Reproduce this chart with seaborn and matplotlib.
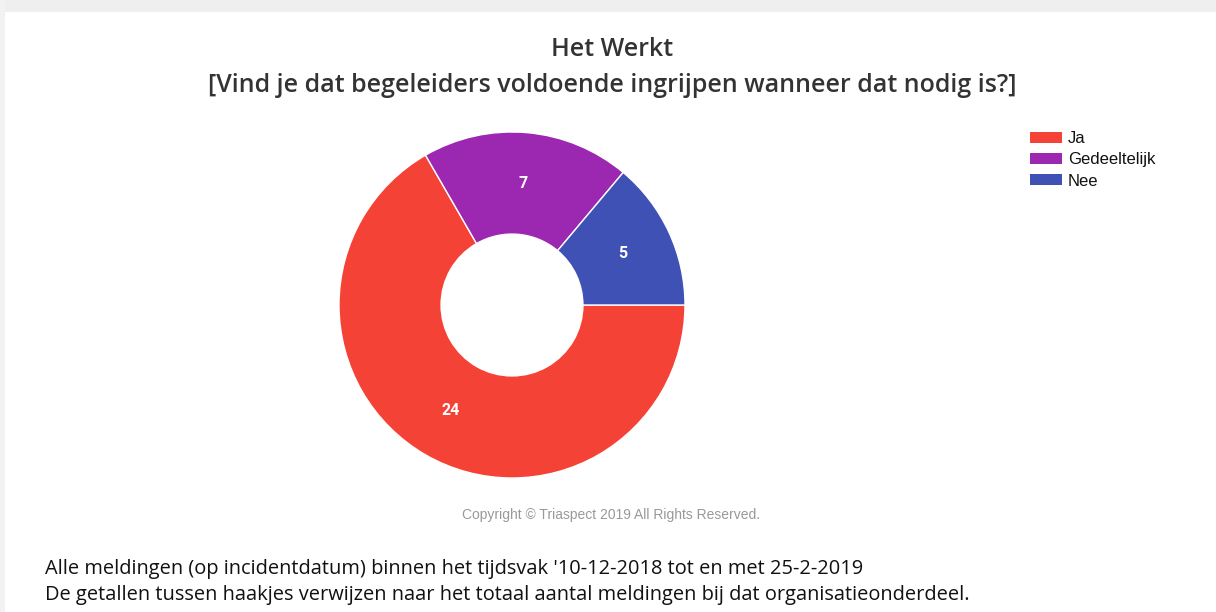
import matplotlib
matplotlib.use("Agg")
import matplotlib.pyplot as plt
import seaborn as sns
from matplotlib.patches import Rectangle, Patch

# data
categories = ["Ja", "Gedeeltelijk", "Nee"]
counts = [24, 7, 5]
colors = ["#F44336", "#9C27B0", "#3F51B5"]

sns.set_theme(style="white")
plt.rcParams["font.family"] = ["Open Sans", "DejaVu Sans"]

fig = plt.figure(figsize=(12.16, 6.12), dpi=100)
fig.patch.set_facecolor("white")

# page frame: grey band on top, shadow on the left
fig.patches.append(Rectangle((0, 1 - 12 / 612), 1, 12 / 612, transform=fig.transFigure,
                             facecolor="#EFEFEF", edgecolor="none", zorder=0))
fig.patches.append(Rectangle((0, 0), 5 / 1216, 1, transform=fig.transFigure,
                             facecolor="#F2F2F2", edgecolor="none", zorder=0))

# titles
fig.text(612 / 1216, 1 - 50 / 612, "Het Werkt", ha="center", va="center",
         fontsize=18, fontweight="semibold", color="#333333")
fig.text(612 / 1216, 1 - 86 / 612,
         "[Vind je dat begeleiders voldoende ingrijpen wanneer dat nodig is?]",
         ha="center", va="center", fontsize=18, fontweight="semibold", color="#333333")

# donut
ax = fig.add_axes([(512 - 173) / 1216, (612 - 305 - 173) / 612, 346 / 1216, 346 / 612])
wedges, texts, autotexts = ax.pie(
    counts, colors=colors, startangle=0, counterclock=False, radius=1,
    wedgeprops=dict(width=0.59, edgecolor="white", linewidth=1),
    autopct=lambda p: f"{round(p * sum(counts) / 100)}", pctdistance=0.705,
    textprops=dict(color="white", fontsize=11.5, fontweight="bold",
                   family=["Roboto", "DejaVu Sans"]))
ax.set_xlim(-1, 1)
ax.set_ylim(-1, 1)
ax.set_aspect("auto")
ax.axis("off")

# legend
handles = [Patch(facecolor=c, edgecolor="none") for c in colors]
leg = fig.legend(handles, categories, loc="upper left",
                 bbox_to_anchor=(1030 / 1216, 1 - 131 / 612), frameon=False,
                 prop=dict(family=["Liberation Sans", "DejaVu Sans"], size=12),
                 handlelength=1.92, handleheight=0.66, handletextpad=0.36,
                 labelspacing=0.38, borderaxespad=0, borderpad=0)
for t in leg.get_texts():
    t.set_color("#111111")

# copyright
fig.text(611 / 1216, 1 - 515 / 612, "Copyright \u00a9 Triaspect 2019 All Rights Reserved.",
         ha="center", va="center", fontsize=10, color="#999999",
         family=["Liberation Sans", "DejaVu Sans"])

# footnotes
fig.text(45 / 1216, 1 - 569 / 612,
         "Alle meldingen (op incidentdatum) binnen het tijdsvak '10-12-2018 tot en met 25-2-2019",
         ha="left", va="center", fontsize=14.4, color="#111111")
fig.text(45 / 1216, 1 - 595 / 612,
         "De getallen tussen haakjes verwijzen naar het totaal aantal meldingen bij dat organisatieonderdeel.",
         ha="left", va="center", fontsize=14.4, color="#111111")

fig.savefig("out.png", dpi=100)
